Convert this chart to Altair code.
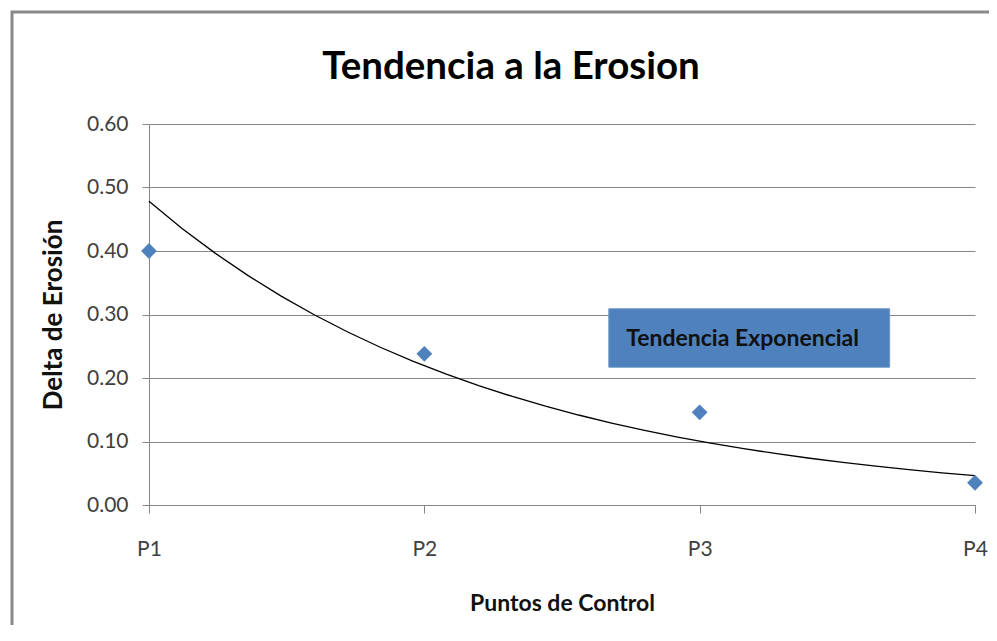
import altair as alt
import pandas as pd

categories = ["P1", "P2", "P3", "P4"]
index = [1, 2, 3, 4]
delta = [0.40, 0.238, 0.146, 0.035]

title_text = "Tendencia a la Erosion"
x_title = "Puntos de Control"
y_title = "Delta de Erosión"
note_text = "Tendencia Exponencial"

df = pd.DataFrame({"idx": index, "cat": categories, "val": delta})

FONT = "Lato, Open Sans, sans-serif"
W, H = 826, 381

label_expr = "[" + ",".join("'%s'" % c for c in categories) + "][datum.value - 1]"

x_enc = alt.X(
    "idx:Q",
    scale=alt.Scale(domain=[1, 4], nice=False, zero=False),
    axis=alt.Axis(
        title=x_title, values=index, labelExpr=label_expr, grid=False,
        labelFlush=False,
        tickSize=8, tickColor="#868686", domainColor="#868686",
        labelPadding=25, titlePadding=33, labelFontSize=21, titleFontSize=23,
        labelFont=FONT, titleFont=FONT, labelColor="#404040", titleColor="#111111",
        titleFontWeight="bold",
    ),
)
y_enc = alt.Y(
    "val:Q",
    scale=alt.Scale(domain=[0, 0.6], nice=False),
    axis=alt.Axis(
        title=y_title, values=[0, 0.1, 0.2, 0.3, 0.4, 0.5, 0.6], format=".2f",
        grid=True, gridColor="#868686", tickSize=7, tickColor="#868686",
        domainColor="#868686", labelPadding=14, titlePadding=20,
        labelFontSize=21, titleFontSize=26, labelFont=FONT, titleFont=FONT,
        labelColor="#404040", titleColor="#111111", titleFontWeight="bold",
    ),
)

base = alt.Chart(df)

# Exponential trend (Excel style: least squares on ln(y)), fitted by Vega's regression
trend = base.transform_calculate(
    lnval="log(datum.val)"
).transform_regression(
    "idx", "lnval", method="poly", order=1, extent=[1, 4]
).transform_calculate(
    val="exp(datum.lnval)"
).mark_line(color="#000000", strokeWidth=1.3).encode(x=x_enc, y=y_enc)

points = base.mark_point(
    shape="diamond", filled=True, color="#4F81BD", size=250, opacity=1
).encode(x=alt.X("idx:Q"), y=alt.Y("val:Q"))

one = pd.DataFrame({"t": [title_text]})

frame = alt.Chart(one).mark_rect(
    fill=None, fillOpacity=0, stroke="#8a8a8a", strokeWidth=3
).encode(
    x=alt.value(-137), x2=alt.value(W + 60), y=alt.value(-112), y2=alt.value(H + 200)
)

title_mark = alt.Chart(one).mark_text(
    align="center", baseline="alphabetic", fontSize=38.5, fontWeight="bold",
    font=FONT, color="#000000"
).encode(x=alt.value(362), y=alt.value(-45), text="t:N")

note_df = pd.DataFrame({"t": [note_text]})
note_box = alt.Chart(note_df).mark_rect(
    fill="#4F81BD", stroke="#6d95c8", strokeWidth=1
).encode(
    x=alt.datum(2.67), x2=alt.datum(3.69), y=alt.datum(0.309), y2=alt.datum(0.217)
)
note_label = alt.Chart(note_df).mark_text(
    align="left", baseline="middle", fontSize=23, fontWeight="bold", font=FONT,
    color="#111111"
).encode(x=alt.datum(2.733), y=alt.datum(0.262), text="t:N")

chart = alt.layer(trend, points, note_box, note_label, frame, title_mark).properties(
    width=W, height=H,
    autosize=alt.AutoSizeParams(type="none"),
    padding={"left": 141, "top": 116, "right": 14, "bottom": 120},
).configure_view(stroke=None)

chart.save("out.html", embed_options={"renderer": "svg", "actions": False})
